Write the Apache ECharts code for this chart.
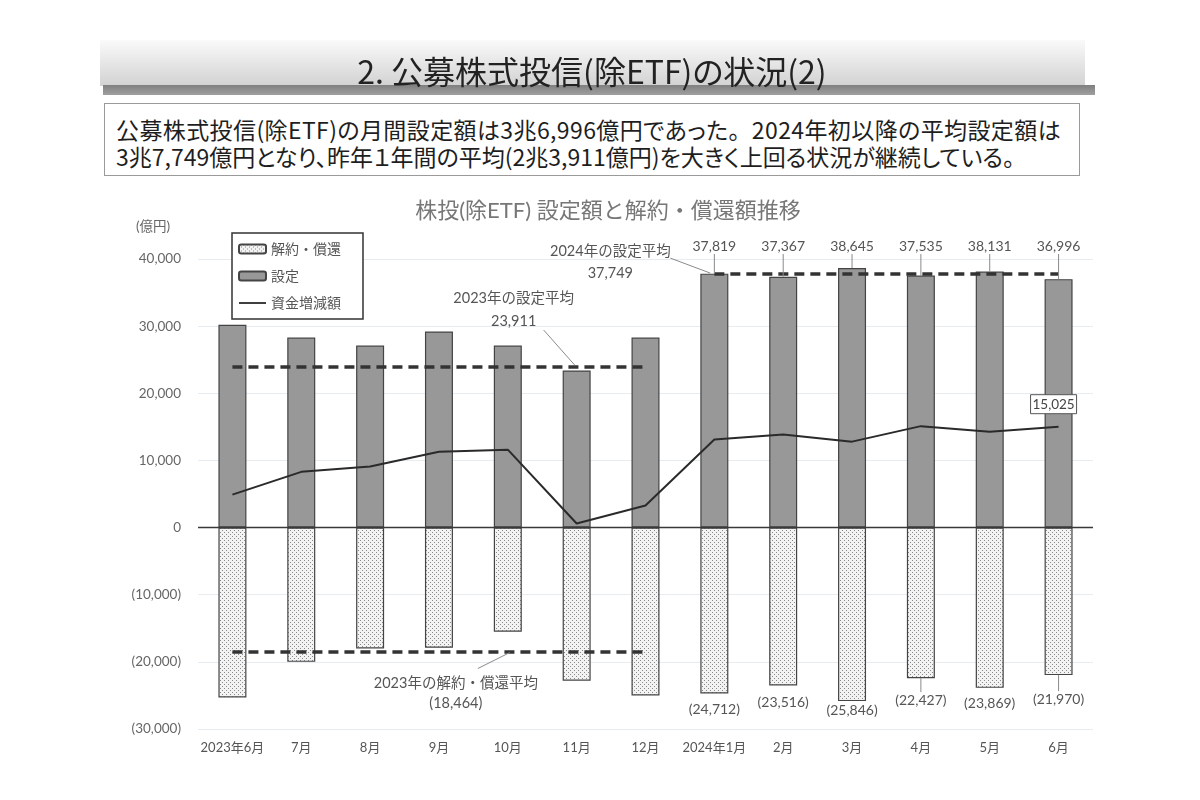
<!DOCTYPE html>
<html><head><meta charset="utf-8">
<script src="https://cdn.jsdelivr.net/npm/echarts@6/dist/echarts.min.js"></script>
<style>
html,body{margin:0;padding:0;background:#fff}
#wrap{position:relative;width:1200px;height:800px;overflow:hidden}
#c{position:absolute;left:0;top:0;width:1200px;height:800px}
.hd{position:absolute;z-index:2;font-family:"Noto Sans CJK JP",sans-serif;white-space:nowrap}
#band{left:100px;top:40px;width:985px;height:46px;background:linear-gradient(#fafafa,#d2d2d2)}
#bar{left:103px;top:85px;width:992px;height:10px;background:linear-gradient(#7f7f7f,#a0a0a0)}
#ttl{left:0;top:44px;width:1184px;text-align:center;font-size:32px;line-height:52px;color:#222;font-feature-settings:"palt"}
#box{left:104px;top:103px;width:976px;height:73px;border:1px solid #9a9a9a;box-sizing:border-box;background:#fff}
.ln{left:116px;font-size:23px;line-height:27px;color:#1e1e1e;font-feature-settings:"palt"}
.np{font-feature-settings:normal}
</style>
</head><body><div id="wrap"><div id="c"></div>
<div class="hd" id="band"></div><div class="hd" id="bar"></div>
<div class="hd" id="ttl">2. 公募株式投信(除ETF)の状況(2)</div>
<div class="hd" id="box"></div>
<div class="hd ln" style="top:116px;letter-spacing:0.4px">公募株式投信(除ETF)の月間設定額は3兆6,996億円であった<span class="np">。</span>2024年初以降の平均設定額は</div>
<div class="hd ln" style="top:143px">3兆7,749億円となり、昨年１年間の平均(2兆3,911億円)を大きく上回る状況が継続している。</div>
</div>
<script>
// ---- data ----
const categories = ['2023年6月','7月','8月','9月','10月','11月','12月','2024年1月','2月','3月','4月','5月','6月'];
const subscriptions = [30200, 28300, 27100, 29200, 27100, 23400, 28300, 37819, 37367, 38645, 37535, 38131, 36996];
const redemptions = [-25300, -20000, -18000, -17900, -15500, -22800, -25000, -24712, -23516, -25846, -22427, -23869, -21970];
const netFlows = [4900, 8300, 9100, 11300, 11600, 600, 3300, 13107, 13851, 12799, 15108, 14262, 15025];
const avgSub2023 = 23911;
const avgRed2023 = -18464;
const avgSub2024 = 37749;
const labelledFrom = 7; // first 2024 month (labels drawn for 2024 bars)
const yTicks = [-30000, -20000, -10000, 0, 10000, 20000, 30000, 40000];

// ---- layout helpers ----
const redLabelOffsets = [16, 17, 9, 22, 16, 24];
const FONT = 'Lato, "Noto Sans CJK JP", sans-serif';
const JP = '"Noto Sans CJK JP", sans-serif';

function fmt(v) {
  const s = Math.abs(v).toLocaleString('en-US');
  return v < 0 ? '(' + s + ')' : s;
}

// dotted pattern for redemptions
const pc = document.createElement('canvas');
pc.width = 4; pc.height = 4;
const g = pc.getContext('2d');
g.fillStyle = '#f3f3f3'; g.fillRect(0, 0, 4, 4);
g.fillStyle = '#8a8a8a'; g.fillRect(0, 0, 1, 1); g.fillRect(2, 2, 1, 1);

const chart = echarts.init(document.getElementById('c'), null, {renderer: 'canvas'});

const option = {
  backgroundColor: 'transparent',
  animation: false,
  grid: {left: 198, right: 107, top: 259, bottom: 71},
  legend: {
    orient: 'vertical', left: 232, top: 233,
    data: [
      {name: '解約・償還'},
      {name: '設定'},
      {name: '資金増減額', icon: 'path://M0,0 L30,0 L30,2 L0,2 Z'}
    ],
    itemWidth: 27, itemHeight: 9, itemGap: 13,
    padding: [9, 22, 9, 6],
    borderColor: '#333', borderWidth: 1.5,
    backgroundColor: '#fff',
    textStyle: {color: '#555', fontSize: 14, fontFamily: JP}
  },
  xAxis: {
    type: 'category', data: categories,
    axisLine: {show: false}, axisTick: {show: false},
    axisLabel: {color: '#555', fontSize: 13, margin: 12, fontFamily: FONT, interval: 0}
  },
  yAxis: {
    type: 'value', min: yTicks[0], max: yTicks[yTicks.length - 1], interval: 10000,
    axisLine: {show: false}, axisTick: {show: false},
    axisLabel: {color: '#666', fontSize: 13.5, margin: 17, fontFamily: FONT, formatter: fmt},
    splitLine: {lineStyle: {color: '#e6ecef', width: 1}}
  },
  series: [
    {
      name: '解約・償還', type: 'bar', data: redemptions, barWidth: 28, barGap: '-100%',
      itemStyle: {color: {image: pc, repeat: 'repeat'}, borderColor: '#444', borderWidth: 1.2},
      markLine: {
        symbol: 'none', silent: true, label: {show: false},
        lineStyle: {color: '#3a3a3a', width: 1.3, type: 'solid'},
        data: [{yAxis: 0}]
      }
    },
    {
      name: '設定', type: 'bar', data: subscriptions, barWidth: 28,
      itemStyle: {color: '#989898', borderColor: '#444', borderWidth: 1.2},
      markLine: {
        symbol: 'none', silent: true, label: {show: false}, z: 5,
        lineStyle: {color: '#333', width: 3.5, type: [10, 6]},
        data: [
          [{coord: [0, avgSub2023]}, {coord: [6, avgSub2023]}],
          [{coord: [0, avgRed2023]}, {coord: [6, avgRed2023]}],
          [{coord: [labelledFrom, avgSub2024]}, {coord: [12, avgSub2024]}]
        ]
      }
    },
    {
      name: '資金増減額', type: 'line', data: netFlows, symbol: 'none', z: 4,
      lineStyle: {color: '#2a2a2a', width: 2}, itemStyle: {color: '#2a2a2a'}
    }
  ]
};
chart.setOption(option);

function px(i, v) { return chart.convertToPixel({xAxisIndex: 0, yAxisIndex: 0}, [i, v]); }

const els = [];
// chart title & unit
els.push({type: 'text', x: 608, y: 211, silent: true,
  style: {text: '株投(除ETF) 設定額と解約・償還額推移', fill: '#777', font: '22px ' + FONT, align: 'center', verticalAlign: 'middle'}});
els.push({type: 'text', x: 153, y: 227, silent: true,
  style: {text: '(億円)', fill: '#666', font: '13.5px ' + FONT, align: 'center', verticalAlign: 'middle'}});

const lblStyle = (t, x, y, fs) => ({type: 'text', x: x, y: y, silent: true,
  style: {text: t, fill: '#555', font: (fs || 13.5) + 'px ' + FONT, align: 'center', verticalAlign: 'middle'}});
const leader = (x1, y1, x2, y2) => ({type: 'line', silent: true,
  shape: {x1: x1, y1: y1, x2: x2, y2: y2}, style: {stroke: '#8a8a8a', lineWidth: 1}});

// 2023 subscription average annotation
const a1 = px(5, avgSub2023);
els.push(lblStyle('2023年の設定平均', a1[0] - 63, a1[1] - 69, 14.5));
els.push(lblStyle(fmt(avgSub2023), a1[0] - 63, a1[1] - 46, 14.5));
els.push(leader(a1[0] - 33, a1[1] - 37, a1[0] - 2, a1[1] - 2));
// 2024 subscription average annotation
const a2 = px(labelledFrom, avgSub2024);
els.push(lblStyle('2024年の設定平均', a2[0] - 104, a2[1] - 23, 14.5));
els.push(lblStyle(fmt(avgSub2024), a2[0] - 104, a2[1] - 1, 14.5));
els.push(leader(a2[0] - 44, a2[1] - 16, a2[0] - 4, a2[1] - 1));
// 2023 redemption average annotation
const a3 = px(4, avgRed2023);
els.push(lblStyle('2023年の解約・償還平均', a3[0] - 52, a3[1] + 32, 14.5));
els.push(lblStyle(fmt(avgRed2023), a3[0] - 52, a3[1] + 52, 14.5));
els.push(leader(a3[0] - 30, a3[1] + 17, a3[0] + 2, a3[1] + 1));

// 2024 bar labels
const topY = px(0, yTicks[yTicks.length - 1])[1] - 13;
for (let i = labelledFrom; i < categories.length; i++) {
  const t = px(i, subscriptions[i]);
  els.push(lblStyle(fmt(subscriptions[i]), t[0], topY, 14));
  if (t[1] - topY > 12) els.push(leader(t[0], topY + 8, t[0], t[1]));
  const b = px(i, redemptions[i]);
  const off = redLabelOffsets[i - labelledFrom];
  els.push(lblStyle(fmt(redemptions[i]), t[0], b[1] + off, 14));
  if (off > 20) els.push(leader(b[0], b[1], b[0], b[1] + off - 8));
}
// last net flow callout
const last = netFlows.length - 1;
const n = px(last, netFlows[last]);
els.push({type: 'rect', silent: true, z: 100, shape: {x: n[0] - 28, y: n[1] - 32, width: 46, height: 19},
  style: {fill: '#fff', stroke: '#555', lineWidth: 1}});
els.push({type: 'text', x: n[0] - 5, y: n[1] - 22.5, silent: true, z: 101,
  style: {text: fmt(netFlows[last]), fill: '#444', font: '13.5px ' + FONT, align: 'center', verticalAlign: 'middle'}});

chart.setOption({graphic: {elements: els.map(e => Object.assign({z: 100}, e))}});
</script>
</body></html>
